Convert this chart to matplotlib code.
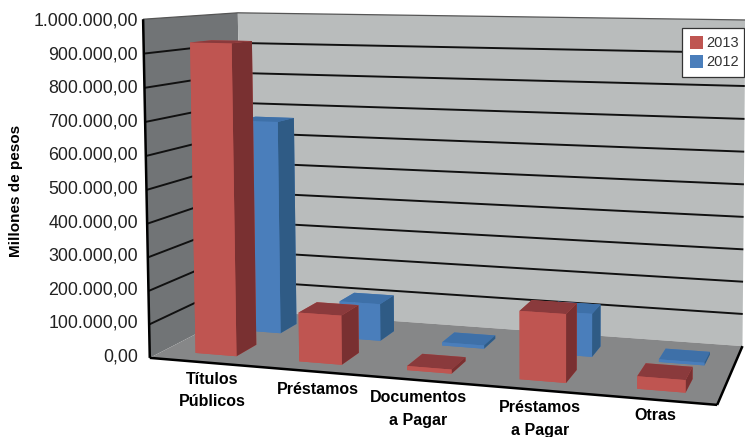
import numpy as np
import matplotlib
matplotlib.use("Agg")
import matplotlib.pyplot as plt
from mpl_toolkits.mplot3d.art3d import Poly3DCollection, Line3DCollection

plt.rcParams['font.family'] = ['Liberation Sans Narrow', 'Liberation Sans', 'DejaVu Sans']

categories = [["Títulos", "Públicos"], ["Préstamos"], ["Documentos", "a Pagar"],
              ["Préstamos", "a Pagar"], ["Otras"]]
values_2013 = [930000, 145000, 12000, 195000, 35000]
values_2012 = [670000, 115000, 10000, 130000, 8000]
ticks = np.arange(0, 1000001, 100000)
tick_labels = ["0,00", "100.000,00", "200.000,00", "300.000,00", "400.000,00", "500.000,00",
               "600.000,00", "700.000,00", "800.000,00", "900.000,00", "1.000.000,00"]

ZMAX = 1000000
WIDTH, HEIGHT = 745, 437

# box corners (x, y, z) and where they sit on the picture, used to fit the camera
box = [(0, 0, 0), (5, 0, 0), (5, 1, 0), (0, 1, 0), (0, 0, ZMAX), (0, 1, ZMAX), (5, 1, ZMAX)]
pix = [(152, 358), (717, 405), (743, 346), (240, 310), (141, 19), (240, 13), (745, 20)]


def fit_camera():
    A = []
    b = []
    for (x, y, z), (u, v) in zip(box, pix):
        A.append([x, y, z, 1, 0, 0, 0, 0, -u*x, -u*y, -u*z])
        A.append([0, 0, 0, 0, x, y, z, 1, -v*x, -v*y, -v*z])
        b += [u, v]
    A = np.array(A, dtype=float)
    scale = np.array([1, 1, 1e-6, 1, 1, 1, 1e-6, 1, 1, 1, 1e-6])
    p = np.linalg.lstsq(A*scale, np.array(b, dtype=float), rcond=None)[0]*scale
    return np.array([p[:4],
                     p[4:8],
                     [-0.02, 1.0, -0.3e-6, 0.0],
                     [p[8], p[9], p[10], 1.0]])


M = fit_camera()

fig = plt.figure(figsize=(WIDTH/100, HEIGHT/100), dpi=100)
ax = fig.add_axes([0, 0, 1, 1], projection='3d')
ax.apply_aspect = lambda position=None: None
ax.get_proj = lambda: M
ax.viewLim.intervalx = (0, WIDTH)
ax.viewLim.intervaly = (HEIGHT, 0)
ax.set_axis_off()
ax.computed_zorder = False

# walls and floor
left = [[(0, 0, 0), (0, 1, 0), (0, 1, ZMAX), (0, 0, ZMAX)]]
back = [[(0, 1, 0), (5, 1, 0), (5, 1, ZMAX), (0, 1, ZMAX)]]
floor = [[(0, 0, 0), (5, 0, 0), (5, 1, 0), (0, 1, 0)]]
ax.add_collection3d(Poly3DCollection(left, facecolor='#717476', edgecolor='none', zorder=1))
ax.add_collection3d(Poly3DCollection(back, facecolor='#b9bcbc', edgecolor='none', zorder=1))
ax.add_collection3d(Poly3DCollection(floor, facecolor='#868788', edgecolor='none', zorder=1))

grid = []
for t in ticks[1:-1]:
    grid.append([(0, 0, t), (0, 1, t), (5, 1, t)])
ax.add_collection3d(Line3DCollection(grid, colors='#111111', linewidths=1.4, zorder=2))
rim = [[(0, 0, ZMAX), (0, 1, ZMAX), (5, 1, ZMAX)]]
ax.add_collection3d(Line3DCollection(rim, colors='#555555', linewidths=0.9, zorder=2))
frame = [[(0, 0, 0), (0, 0, ZMAX)], [(0, 0, 0), (5, 0, 0)], [(5, 0, 0), (5, 1, 0)]]
ax.add_collection3d(Line3DCollection(frame, colors='black', linewidths=1.8, zorder=3))

# faces: bottom, top, front, back, left, right
red_faces = ['#bf5551', '#8a3a3c', '#bf5551', '#bf5551', '#bf5551', '#793031'] * 5
blue_faces = ['#4a7ebb', '#3e70a8', '#4a7ebb', '#4a7ebb', '#4a7ebb', '#2f5b85'] * 5
ind = np.arange(5)
ax.bar3d(ind + 0.35, 0.60, 0, 0.4, 0.2, values_2012, color=blue_faces, shade=False, zorder=4, linewidth=0)
ax.bar3d(ind + 0.31, 0.14, 0, 0.4, 0.22, values_2013, color=red_faces, shade=False, zorder=5, linewidth=0)

# text and legend on a flat layer measured in picture pixels
top = fig.add_axes([0, 0, 1, 1])
top.set_xlim(0, WIDTH)
top.set_ylim(HEIGHT, 0)
top.axis('off')

for k, lab in enumerate(tick_labels):
    top.text(138, 357 - k*33.6, lab, ha='right', va='center', fontsize=12.8, color='#222222')
top.text(16, 191, "Millones de pesos", rotation=90, ha='center', va='center',
         fontsize=11, fontweight='bold')
label_x = [212, 318, 418, 540, 655]
label_y = [380, 389, 398, 408, 415]
for lab, x, y in zip(categories, label_x, label_y):
    for n, line in enumerate(lab):
        top.text(x, y + n*22, line, ha='center', va='center', fontsize=11.5, fontweight='bold')

top.add_patch(plt.Rectangle((681.5, 27.5), 62, 49, facecolor='white', edgecolor='#333333', lw=0.9))
top.add_patch(plt.Rectangle((690, 36), 13, 13, facecolor='#bf5551', edgecolor='none'))
top.add_patch(plt.Rectangle((690, 55), 13, 13, facecolor='#4a7ebb', edgecolor='none'))
top.text(706, 43, "2013", ha='left', va='center', fontsize=10.5, color='#333333',
         family=['Liberation Sans', 'DejaVu Sans'])
top.text(706, 62, "2012", ha='left', va='center', fontsize=10.5, color='#333333',
         family=['Liberation Sans', 'DejaVu Sans'])

fig.savefig("out.png", dpi=100)
